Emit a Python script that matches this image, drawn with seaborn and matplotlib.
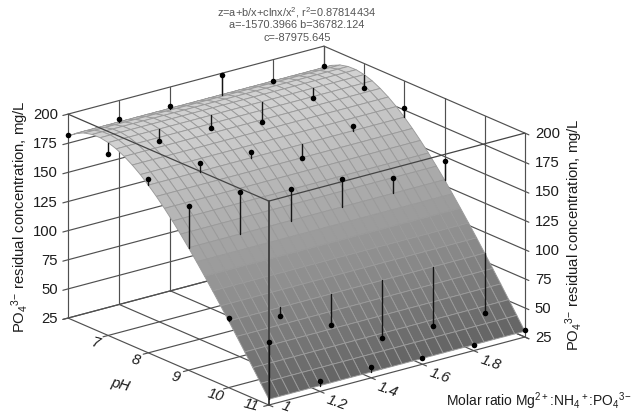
import numpy as np
import pandas as pd
import matplotlib
matplotlib.use("Agg")
import matplotlib.pyplot as plt
import seaborn as sns
from mpl_toolkits.mplot3d import proj3d

x_ticks = [1.0, 1.2, 1.4, 1.6, 1.8, 2.0]
ph_ticks = [6, 7, 8, 9, 10, 11]
z_ticks = [25, 50, 75, 100, 125, 150, 175, 200]

# surface height read along pH, it hardly changes with the molar ratio
ph_mesh = [6.0, 6.2, 6.4, 6.6, 6.8, 7.0, 7.2, 7.4, 7.6, 7.8, 8.0, 8.2, 8.4,
           8.6, 8.8, 9.0, 9.2, 9.4, 9.6, 9.8, 10.0, 10.2, 10.4, 10.6, 10.8, 11.0]
z_mesh = [181.3, 186.5, 189.8, 191.5, 191.7, 190.5, 188.1, 184.6, 180.2, 175.0,
          168.9, 162.2, 154.9, 147.1, 138.8, 130.1, 121.0, 111.6, 102.0, 92.2,
          82.1, 71.9, 61.6, 51.1, 40.6, 30.0]
x_mesh = [1.0, 1.04, 1.08, 1.12, 1.16, 1.2, 1.24, 1.28, 1.32, 1.36, 1.4, 1.44, 1.48,
          1.52, 1.56, 1.6, 1.64, 1.68, 1.72, 1.76, 1.8, 1.84, 1.88, 1.92, 1.96, 2.0]

# measured residual concentration, one list per pH, one value per ratio
measured_ph6 = [182, 184, 184, 198.5, 182, 183]
measured_ph7 = [181, 180, 179.5, 173, 182, 179]
measured_ph8 = [174, 176, 174, 157, 173, 177]
measured_ph9 = [166, 166, 157, 154, 143, 146]
measured_ph10 = [85, 75, 55, 32.5, 31, 31]
measured_ph11 = [79, 34, 34, 30, 30, 31]

sns.set_theme(style="white")
plt.rcParams["font.family"] = ["Liberation Sans", "DejaVu Sans"]
plt.rcParams["mathtext.fontset"] = "custom"
plt.rcParams["mathtext.rm"] = "Liberation Sans"
plt.rcParams["mathtext.it"] = "Liberation Sans:italic"
plt.rcParams["mathtext.default"] = "rm"

points = pd.DataFrame(
    [measured_ph6, measured_ph7, measured_ph8, measured_ph9, measured_ph10, measured_ph11],
    index=ph_ticks, columns=x_ticks,
).rename_axis(index="pH", columns="ratio").stack().rename("conc").reset_index()
points["fit"] = points["pH"].map(dict(zip(ph_mesh, z_mesh)))

fig = plt.figure(figsize=(6.42, 4.14), dpi=100)
ax = fig.add_axes([42.8 / 642, -66.2 / 414, 493.9 / 642, 493.9 / 414],
                  projection="3d", computed_zorder=False)
ax.set_proj_type("ortho")
ax.view_init(elev=19.82, azim=-128.07)
ax.set_box_aspect((325.2, 325.8, 216.8))
ax.set_xlim(1, 2)
ax.set_ylim(11, 6)
ax.set_zlim(25, 200)
ax.set_xticks([])
ax.set_yticks([])
ax.set_zticks([])
ax.set_axis_off()

grid = "#505050"
lw = 0.85
ink = "#1c1c1c"

# back walls
for z in z_ticks:
    ax.plot([0.98, 2], [6, 6], [z, z], color=grid, lw=lw, zorder=1)
    ax.plot([2, 2], [6, 11.1], [z, z], color=grid, lw=lw, zorder=1)
for x in x_ticks:
    ax.plot([x, x], [6, 6], [25, 200], color=grid, lw=lw, zorder=1)
    ax.plot([x, x], [6, 11.1], [25, 25], color=grid, lw=lw, zorder=1)
for ph in ph_ticks:
    ax.plot([2, 2], [ph, ph], [25, 200], color=grid, lw=lw, zorder=1)
    ax.plot([0.98, 2], [ph, ph], [25, 25], color=grid, lw=lw, zorder=1)

# fitted surface
X, P = np.meshgrid(x_mesh, ph_mesh)
Z = np.tile(np.array(z_mesh)[:, None], (1, len(x_mesh)))
shades = sns.blend_palette(["#5c5c5c", "#949494", "#d4d4d4"], as_cmap=True)
ax.plot_surface(X, P, Z, facecolors=shades(plt.Normalize(25, 195)(Z)), rstride=1, cstride=1,
                edgecolor="#9a9a9a", linewidth=0.65, shade=False, zorder=2)

# front edges sit over the surface
ax.plot([1, 1], [6, 11], [200, 200], color="#444444", lw=0.9, zorder=3)
ax.plot([1, 2], [11, 11], [200, 200], color="#444444", lw=0.9, zorder=3)
ax.plot([1, 1], [11, 11], [25, 200], color="#444444", lw=1.4, zorder=3)

for _, row in points.iterrows():
    ax.plot([row["ratio"]] * 2, [row["pH"]] * 2, [row["conc"], row["fit"]],
            color="#151515", lw=1.0, zorder=4)
ax.scatter(points["ratio"], points["pH"], points["conc"], color="black", s=16,
           linewidths=0, depthshade=False, zorder=5)


def label3d(x, ph, z, text, **kw):
    # plain 2D text placed where the 3D point lands
    px, py, _ = proj3d.proj_transform(x, ph, z, ax.get_proj())
    ax.text2D(px, py, text, transform=ax.transData, ha=kw.pop("ha", "center"), va="center",
              fontsize=fs, color=ink, **kw)


# tick labels
fs = 10.7
for z in z_ticks:
    label3d(0.96, 6, z + 2.3, str(z), ha="right")
    label3d(2, 11.25, z + 3.7, str(z), ha="left")
for ph in ph_ticks[1:-1]:
    label3d(0.95, ph, 22.5, str(ph), rotation=-15, style="italic")
label3d(0.93, 11, 29.5, "11", rotation=-15, style="italic")
for x, lab in zip(x_ticks[1:-1], ["1.2", "1.4", "1.6", "1.8"]):
    label3d(x, 11.42, 22, lab, rotation=-20, style="italic")
label3d(1, 11.42, 31, "1", rotation=-20, style="italic")

conc_label = r"PO$_4$$^{3\mathrm{-}}$ residual concentration, mg/L"
fig.text(20 / 642, 1 - 217 / 414, conc_label, rotation=90, ha="center", va="center",
         fontsize=fs, color=ink)
fig.text(574 / 642, 1 - 235 / 414, conc_label, rotation=90, ha="center", va="center",
         fontsize=fs, color=ink)
fig.text(120 / 642, 1 - 385 / 414, "pH", rotation=-15, ha="center", va="center",
         fontsize=fs, style="italic", color=ink)
fig.text(538.5 / 642, 1 - 401 / 414, r"Molar ratio Mg$^{2+}$:NH$_4$$^+$:PO$_4$$^{3\mathrm{-}}$",
         ha="center", va="center", fontsize=10, color=ink)

title_lines = [r"z=a+b/x+clnx/x$^2$, r$^2$=0.87814434", "a=-1570.3966 b=36782.124", "c=-87975.645"]
for y, line in zip([12.5, 25.5, 38], title_lines):
    fig.text(297 / 642, 1 - y / 414, line, ha="center", va="center", fontsize=7.9, color="#555555")

fig.savefig("out.png", dpi=100, facecolor="white")
